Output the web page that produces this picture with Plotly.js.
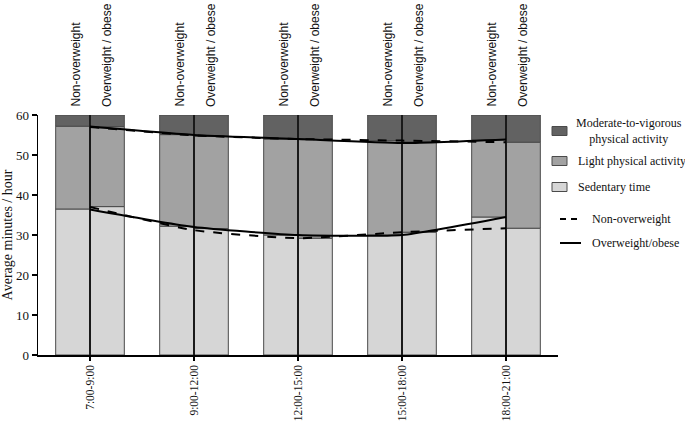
<!DOCTYPE html>
<html>
<head>
<meta charset="utf-8">
<script src="https://cdn.plot.ly/plotly-3.0.1.min.js"></script>
<style>html,body{margin:0;padding:0;background:#fff;}#chart{width:685px;height:428px;}</style>
</head>
<body>
<div id="chart"></div>
<script>
// Time periods (x categories)
const periods = ['7:00-9:00', '9:00-12:00', '12:00-15:00', '15:00-18:00', '18:00-21:00'];
const groupLabels = ['Non-overweight', 'Overweight / obese'];
const legendBars = ['Moderate-to-vigorous<br>physical activity', 'Light physical activity', 'Sedentary time'];
const legendLines = ['Non-overweight', 'Overweight/obese'];

// Stacked bar segments, average minutes per hour
const sedNon   = [36.5, 32.2, 30.0, 30.0, 34.5];
const lightNon = [20.7, 22.9, 24.0, 23.6, 19.3];
const mvpaNon  = [2.8, 4.9, 6.0, 6.4, 6.2];
const sedOw    = [37.1, 31.6, 29.2, 30.7, 31.7];
const lightOw  = [20.0, 23.1, 24.7, 22.6, 21.5];
const mvpaOw   = [2.9, 5.3, 6.1, 6.7, 6.8];

// Overlaid trend lines
const dashLower  = [37.0, 31.2, 29.2, 30.7, 31.7];
const dashUpper  = [57.0, 54.9, 54.0, 53.6, 53.2];
const solidLower = [36.4, 32.0, 30.0, 30.0, 34.5];
const solidUpper = [57.1, 55.0, 54.0, 53.0, 53.9];

const totalMinutes = 60;

const colSed = '#d6d6d6', colLight = '#a2a2a2', colMvpa = '#626262';
const edgeCol = '#4a4a4a';
const edge = {color: edgeCol, width: 1};
const W = 0.33;

function add(a, b) { return a.map((v, i) => v + b[i]); }

function barTrace(y, base, color, offset) {
  return {
    type: 'bar', x: periods, y: y, base: base,
    width: W, offset: offset,
    marker: {color: color, line: edge},
    showlegend: false, hoverinfo: 'skip'
  };
}
const zeros = periods.map(() => 0);
const traces = [
  barTrace(sedNon, zeros, colSed, -W),
  barTrace(lightNon, sedNon, colLight, -W),
  barTrace(mvpaNon, add(sedNon, lightNon), colMvpa, -W),
  barTrace(sedOw, zeros, colSed, 0),
  barTrace(lightOw, sedOw, colLight, 0),
  barTrace(mvpaOw, add(sedOw, lightOw), colMvpa, 0)
];

// Centre divider through each pair of bars
const divX = [], divY = [];
periods.forEach(p => { divX.push(p, p, null); divY.push(0, totalMinutes, null); });
traces.push({type: 'scatter', mode: 'lines', x: divX, y: divY,
  line: {color: '#1a1a1a', width: 2}, showlegend: false, hoverinfo: 'skip'});

function lineTrace(y, dash) {
  return {type: 'scatter', mode: 'lines', x: periods, y: y,
    line: {color: '#000', width: 2, dash: dash, shape: 'spline', smoothing: 0.5},
    showlegend: false, hoverinfo: 'skip'};
}
traces.push(lineTrace(dashLower, 'dash'));
traces.push(lineTrace(dashUpper, 'dash'));
traces.push(lineTrace(solidLower, 'solid'));
traces.push(lineTrace(solidUpper, 'solid'));

// Layout geometry (pixels)
const M = {l: 38, r: 127, t: 115, b: 73};
const PW = 685 - M.l - M.r, PH = 428 - M.t - M.b;
const px = x => (x - M.l) / PW;
const py = y => (428 - M.b - y) / PH;

const serif = 'Liberation Serif, Times New Roman, serif';
const annotations = [];
periods.forEach(p => {
  groupLabels.forEach((g, j) => {
    annotations.push({
      x: p, xref: 'x', y: 1, yref: 'paper', text: g, showarrow: false,
      textangle: -90, xanchor: 'center', yanchor: 'bottom',
      xshift: j === 0 ? -15 : 17, yshift: 6,
      font: {family: 'Liberation Sans, Arial, sans-serif', size: 12, color: '#111'}
    });
  });
});

// Hand-placed legend (symbols + text)
const shapes = [];
const barLegend = [
  {label: legendBars[0], color: colMvpa, y: 131, tx: 629, anchor: 'center'},
  {label: legendBars[1], color: colLight, y: 161, tx: 576, anchor: 'left'},
  {label: legendBars[2], color: colSed, y: 187, tx: 576, anchor: 'left'}
];
barLegend.forEach(it => {
  shapes.push({type: 'rect', xref: 'paper', yref: 'paper',
    x0: px(552), x1: px(567), y0: py(it.y - 4.5), y1: py(it.y + 4.5),
    fillcolor: it.color, line: {color: edgeCol, width: 1}});
  annotations.push({xref: 'paper', yref: 'paper', x: px(it.tx), y: py(it.y - (it.anchor === 'center' ? 0 : 0.5)),
    text: it.label, showarrow: false, xanchor: it.anchor, yanchor: 'middle', align: 'center',
    font: {family: serif, size: 12, color: '#111'}});
});
[{label: legendLines[0], dash: 'dash', y: 219}, {label: legendLines[1], dash: 'solid', y: 243}].forEach(it => {
  shapes.push({type: 'line', xref: 'paper', yref: 'paper',
    x0: px(560), x1: px(581), y0: py(it.y), y1: py(it.y),
    line: {color: '#000', width: 2, dash: it.dash === 'dash' ? '6px,5px' : 'solid'}});
  annotations.push({xref: 'paper', yref: 'paper', x: px(590), y: py(it.y - 0.5),
    text: it.label, showarrow: false, xanchor: 'left', yanchor: 'middle',
    font: {family: serif, size: 12, color: '#111'}});
});

const layout = {
  width: 685, height: 428,
  margin: M,
  paper_bgcolor: '#fff', plot_bgcolor: '#fff',
  barmode: 'overlay', showlegend: false,
  font: {family: serif, size: 12, color: '#111'},
  xaxis: {
    type: 'category', range: [-0.5, 4.5], automargin: false,
    showline: true, linecolor: '#000', linewidth: 1.5,
    ticks: 'outside', ticklen: 4, tickwidth: 1.5, tickcolor: '#000',
    tickangle: -90, showgrid: false, zeroline: false,
    tickfont: {family: serif, size: 11.5}
  },
  yaxis: {
    range: [0, 60], dtick: 10, automargin: false,
    showline: true, linecolor: '#000', linewidth: 1.5,
    ticks: 'outside', ticklen: 5, tickwidth: 1.5, tickcolor: '#000',
    showgrid: false, zeroline: false,
    tickfont: {family: serif, size: 13},
    title: {text: 'Average minutes / hour', standoff: 6, font: {family: serif, size: 14}}
  },
  shapes: shapes,
  annotations: annotations
};

Plotly.newPlot('chart', traces, layout, {displayModeBar: false, staticPlot: true});
</script>
</body>
</html>
